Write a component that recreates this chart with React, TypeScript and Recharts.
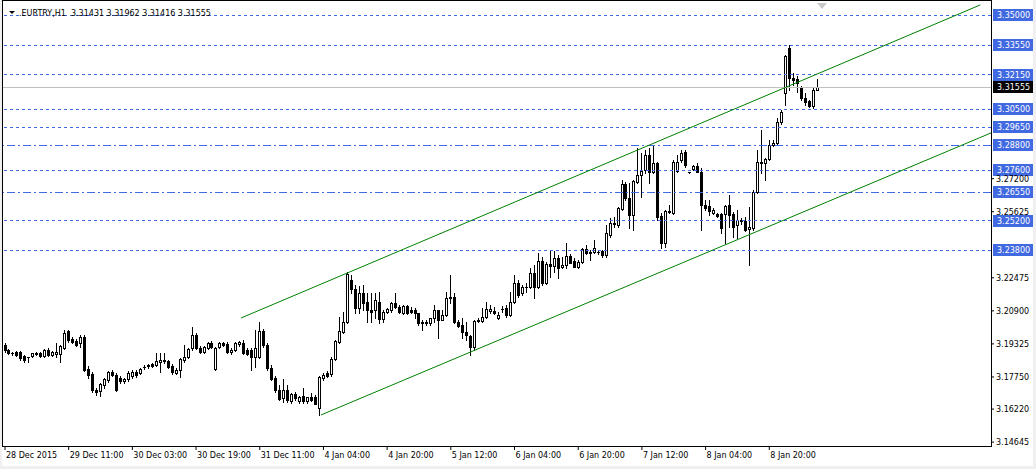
import React from 'react';
import { Bar, ComposedChart, ReferenceLine, XAxis, YAxis } from 'recharts';

// EURTRY H1 candles (oldest first)
const openP = [
  3.1927, 3.1903, 3.1889, 3.1894, 3.1894, 3.1875, 3.1870, 3.1875, 3.1884, 3.1889,
  3.1875, 3.1903, 3.1880, 3.1884, 3.1884, 3.1913, 3.1994, 3.1956, 3.1946, 3.1937,
  3.1966, 3.1813, 3.1789, 3.1713, 3.1708, 3.1737, 3.1760, 3.1799, 3.1784, 3.1770,
  3.1756, 3.1765, 3.1780, 3.1799, 3.1794, 3.1822, 3.1827, 3.1837, 3.1832, 3.1846,
  3.1856, 3.1851, 3.1827, 3.1794, 3.1808, 3.1856, 3.1870, 3.1913, 3.1975, 3.1913,
  3.1894, 3.1913, 3.1937, 3.1813, 3.1918, 3.1937, 3.1932, 3.1894, 3.1903, 3.1932,
  3.1937, 3.1903, 3.1903, 3.1870, 3.1870, 3.1994, 3.1927, 3.1818, 3.1770, 3.1713,
  3.1675, 3.1713, 3.1660, 3.1694, 3.1660, 3.1684, 3.1660, 3.1680, 3.1680, 3.1627,
  3.1770, 3.1794, 3.1789, 3.1860, 3.1942, 3.1989, 3.2037, 3.2237, 3.2194, 3.2104,
  3.2175, 3.2132, 3.2094, 3.2094, 3.2132, 3.2051, 3.2084, 3.2094, 3.2127, 3.2108,
  3.2080, 3.2113, 3.2094, 3.2094, 3.2080, 3.2037, 3.2032, 3.2032, 3.2056, 3.2094,
  3.2046, 3.2070, 3.2156, 3.2156, 3.2037, 3.2023, 3.1989, 3.1971, 3.1918, 3.2042,
  3.2042, 3.2061, 3.2089, 3.2089, 3.2056, 3.2099, 3.2104, 3.2070, 3.2132, 3.2223,
  3.2175, 3.2204, 3.2204, 3.2270, 3.2204, 3.2328, 3.2223, 3.2313, 3.2304, 3.2342,
  3.2299, 3.2309, 3.2351, 3.2328, 3.2299, 3.2323, 3.2385, 3.2370, 3.2370, 3.2370,
  3.2375, 3.2356, 3.2451, 3.2506, 3.2499, 3.2575, 3.2694, 3.2628, 3.2547, 3.2704,
  3.2737, 3.2761, 3.2833, 3.2752, 3.2795, 3.2542, 3.2413, 3.2561, 3.2556, 3.2757,
  3.2809, 3.2847, 3.2752, 3.2766, 3.2780, 3.2752, 3.2594, 3.2590, 3.2556, 3.2552,
  3.2552, 3.2552, 3.2594, 3.2552, 3.2499, 3.2518, 3.2518, 3.2480, 3.2485, 3.2656,
  3.2795, 3.2795, 3.2814, 3.2880, 3.2890, 3.2990, 3.3128, 3.3343, 3.3200, 3.3195,
  3.3157, 3.3104, 3.3090, 3.3066, 3.31431,
];
const highP = [
  3.1937, 3.1908, 3.1894, 3.1899, 3.1899, 3.1880, 3.1870, 3.1889, 3.1894, 3.1894,
  3.1908, 3.1913, 3.1899, 3.1937, 3.1927, 3.1999, 3.1999, 3.1966, 3.1956, 3.1975,
  3.1975, 3.1827, 3.1799, 3.1722, 3.1746, 3.1770, 3.1803, 3.1808, 3.1794, 3.1780,
  3.1770, 3.1803, 3.1808, 3.1808, 3.1818, 3.1832, 3.1837, 3.1841, 3.1889, 3.1889,
  3.1889, 3.1856, 3.1837, 3.1818, 3.1865, 3.1927, 3.1913, 3.2013, 3.1985, 3.1923,
  3.1923, 3.1942, 3.1946, 3.1918, 3.1942, 3.1942, 3.1942, 3.1913, 3.1942, 3.1946,
  3.1951, 3.1913, 3.1913, 3.1999, 3.2037, 3.2004, 3.1937, 3.1832, 3.1780, 3.1737,
  3.1765, 3.1737, 3.1699, 3.1703, 3.1684, 3.1722, 3.1680, 3.1699, 3.1689, 3.1780,
  3.1794, 3.1803, 3.1870, 3.1951, 3.2061, 3.2084, 3.2275, 3.2261, 3.2213, 3.2209,
  3.2213, 3.2175, 3.2175, 3.2175, 3.2180, 3.2094, 3.2104, 3.2132, 3.2175, 3.2118,
  3.2118, 3.2118, 3.2108, 3.2104, 3.2080, 3.2046, 3.2046, 3.2056, 3.2118, 3.2094,
  3.2094, 3.2180, 3.2261, 3.2175, 3.2046, 3.2056, 3.2037, 3.1975, 3.2046, 3.2056,
  3.2104, 3.2132, 3.2118, 3.2108, 3.2084, 3.2113, 3.2118, 3.2180, 3.2261, 3.2237,
  3.2213, 3.2223, 3.2294, 3.2309, 3.2366, 3.2347, 3.2323, 3.2375, 3.2375, 3.2356,
  3.2347, 3.2413, 3.2361, 3.2342, 3.2332, 3.2390, 3.2404, 3.2380, 3.2428, 3.2380,
  3.2380, 3.2499, 3.2533, 3.2537, 3.2585, 3.2714, 3.2704, 3.2699, 3.2714, 3.2866,
  3.2842, 3.2857, 3.2866, 3.2880, 3.2799, 3.2556, 3.2571, 3.2594, 3.2809, 3.2833,
  3.2857, 3.2857, 3.2752, 3.2785, 3.2795, 3.2771, 3.2618, 3.2618, 3.2580, 3.2556,
  3.2556, 3.2594, 3.2642, 3.2561, 3.2571, 3.2533, 3.2537, 3.2585, 3.2666, 3.2857,
  3.2952, 3.2818, 3.2904, 3.2904, 3.3009, 3.3047, 3.3309, 3.3357, 3.3224, 3.3209,
  3.3162, 3.3128, 3.3095, 3.3152, 3.31962,
];
const lowP = [
  3.1894, 3.1884, 3.1880, 3.1875, 3.1856, 3.1846, 3.1846, 3.1870, 3.1880, 3.1870,
  3.1870, 3.1875, 3.1875, 3.1870, 3.1846, 3.1908, 3.1942, 3.1937, 3.1923, 3.1918,
  3.1803, 3.1770, 3.1703, 3.1689, 3.1684, 3.1722, 3.1751, 3.1780, 3.1708, 3.1746,
  3.1746, 3.1756, 3.1770, 3.1775, 3.1789, 3.1813, 3.1818, 3.1822, 3.1827, 3.1799,
  3.1841, 3.1818, 3.1789, 3.1789, 3.1775, 3.1846, 3.1865, 3.1903, 3.1908, 3.1889,
  3.1889, 3.1908, 3.1913, 3.1808, 3.1913, 3.1923, 3.1889, 3.1884, 3.1899, 3.1923,
  3.1884, 3.1880, 3.1808, 3.1822, 3.1865, 3.1918, 3.1808, 3.1760, 3.1703, 3.1665,
  3.1656, 3.1656, 3.1651, 3.1665, 3.1651, 3.1651, 3.1651, 3.1660, 3.1646, 3.1594,
  3.1760, 3.1775, 3.1780, 3.1856, 3.1937, 3.1985, 3.2032, 3.2175, 3.2080, 3.2080,
  3.2094, 3.2037, 3.2037, 3.2056, 3.2032, 3.2037, 3.2080, 3.2084, 3.2104, 3.2080,
  3.2075, 3.2075, 3.2080, 3.2056, 3.2023, 3.1999, 3.2023, 3.2023, 3.2037, 3.1961,
  3.2046, 3.2065, 3.2127, 3.2032, 3.2013, 3.1961, 3.1951, 3.1880, 3.1903, 3.2037,
  3.2037, 3.2056, 3.2080, 3.2075, 3.2051, 3.2084, 3.2061, 3.2065, 3.2127, 3.2156,
  3.2166, 3.2180, 3.2199, 3.2151, 3.2199, 3.2213, 3.2218, 3.2251, 3.2275, 3.2247,
  3.2294, 3.2294, 3.2318, 3.2299, 3.2294, 3.2318, 3.2361, 3.2332, 3.2366, 3.2361,
  3.2347, 3.2347, 3.2442, 3.2490, 3.2490, 3.2571, 3.2618, 3.2485, 3.2475, 3.2699,
  3.2633, 3.2747, 3.2699, 3.2747, 3.2523, 3.2390, 3.2394, 3.2556, 3.2552, 3.2752,
  3.2799, 3.2776, 3.2747, 3.2761, 3.2752, 3.2475, 3.2571, 3.2547, 3.2552, 3.2537,
  3.2461, 3.2413, 3.2490, 3.2442, 3.2437, 3.2504, 3.2471, 3.2309, 3.2475, 3.2652,
  3.2747, 3.2714, 3.2809, 3.2876, 3.2880, 3.2981, 3.3071, 3.3143, 3.3166, 3.3133,
  3.3095, 3.3071, 3.3062, 3.3057, 3.31416,
];
const closeP = [
  3.1903, 3.1889, 3.1890, 3.1880, 3.1865, 3.1856, 3.1870, 3.1889, 3.1889, 3.1875,
  3.1903, 3.1880, 3.1894, 3.1894, 3.1923, 3.1985, 3.1951, 3.1942, 3.1927, 3.1966,
  3.1808, 3.1784, 3.1713, 3.1703, 3.1741, 3.1765, 3.1799, 3.1784, 3.1713, 3.1756,
  3.1765, 3.1794, 3.1799, 3.1784, 3.1813, 3.1823, 3.1832, 3.1827, 3.1851, 3.1856,
  3.1851, 3.1822, 3.1799, 3.1808, 3.1860, 3.1870, 3.1908, 3.1975, 3.1913, 3.1894,
  3.1918, 3.1937, 3.1918, 3.1913, 3.1937, 3.1927, 3.1894, 3.1903, 3.1937, 3.1942,
  3.1889, 3.1884, 3.1870, 3.1913, 3.1994, 3.1927, 3.1818, 3.1765, 3.1713, 3.1670,
  3.1713, 3.1665, 3.1694, 3.1675, 3.1680, 3.1660, 3.1678, 3.1665, 3.1646, 3.1775,
  3.1784, 3.1780, 3.1860, 3.1946, 3.1994, 3.2037, 3.2266, 3.2194, 3.2104, 3.2175,
  3.2127, 3.2094, 3.2084, 3.2142, 3.2051, 3.2084, 3.2099, 3.2127, 3.2108, 3.2084,
  3.2113, 3.2080, 3.2084, 3.2080, 3.2032, 3.2032, 3.2037, 3.2056, 3.2094, 3.2046,
  3.2070, 3.2151, 3.2151, 3.2037, 3.2018, 3.1989, 3.1975, 3.1918, 3.2042, 3.2046,
  3.2061, 3.2099, 3.2099, 3.2080, 3.2070, 3.2100, 3.2070, 3.2132, 3.2223, 3.2166,
  3.2204, 3.2205, 3.2270, 3.2204, 3.2328, 3.2223, 3.2313, 3.2304, 3.2342, 3.2294,
  3.2309, 3.2351, 3.2318, 3.2299, 3.2323, 3.2385, 3.2366, 3.2366, 3.2390, 3.2371,
  3.2356, 3.2461, 3.2509, 3.2509, 3.2580, 3.2694, 3.2628, 3.2547, 3.2709, 3.2737,
  3.2757, 3.2833, 3.2752, 3.2795, 3.2537, 3.2413, 3.2566, 3.2566, 3.2799, 3.2799,
  3.2842, 3.2785, 3.2751, 3.2780, 3.2752, 3.2594, 3.2580, 3.2566, 3.2571, 3.2542,
  3.2485, 3.2590, 3.2547, 3.2490, 3.2523, 3.2521, 3.2475, 3.2490, 3.2656, 3.2799,
  3.2800, 3.2814, 3.2880, 3.2890, 3.2990, 3.3038, 3.3305, 3.3200, 3.3190, 3.3176,
  3.3104, 3.3086, 3.3066, 3.3143, 3.31555,
];

// time axis: a label every 16 bars
const dateTicks = [0, 16, 32, 48, 64, 80, 96, 112, 128, 144, 160, 176, 192];
const dateLabels = [
  '28 Dec 2015', '29 Dec 11:00', '30 Dec 03:00', '30 Dec 19:00', '31 Dec 11:00',
  '4 Jan 04:00', '4 Jan 20:00', '5 Jan 12:00', '6 Jan 04:00', '6 Jan 20:00',
  '7 Jan 12:00', '8 Jan 04:00', '8 Jan 20:00',
];

// price scale labels that are not hidden behind the level tags
const priceTicks = [3.14645, 3.1622, 3.1775, 3.19325, 3.209, 3.22475, 3.25625, 3.272];

// horizontal levels drawn on the chart
const dottedLevels = [3.35, 3.3355, 3.3215, 3.305, 3.2965, 3.276, 3.252, 3.238];
const dashDotLevels = [3.288, 3.2655];
const bidPrice = 3.31555;

// channel anchors (bar index, price)
const upperChannelIdx = [59.3, 245.0];
const upperChannelPrice = [3.2056, 3.3548];
const lowerChannelIdx = [79.4, 247.7];
const lowerChannelPrice = [3.1594, 3.2938];

const FONT = 'DejaVu Sans';
const BLUE = '#4169e1';

const data = openP.map((o, i) => ({
  i,
  open: o,
  high: highP[i],
  low: lowP[i],
  close: closeP[i],
  range: [lowP[i], highP[i]],
}));

function Candle(props: any) {
  const { x, width, y, height } = props;
  const d = props.payload ?? props;
  if (height == null || !d) return null;
  const k = height / (d.high - d.low);
  const py = (v: number) => y + (d.high - v) * k;
  const cx = Math.round(x + width / 2);
  const top = Math.round(py(Math.max(d.open, d.close)));
  const bot = Math.round(py(Math.min(d.open, d.close)));
  const bull = d.close >= d.open;
  return (
    <g shapeRendering="crispEdges">
      <line x1={cx + 0.5} x2={cx + 0.5} y1={Math.round(y)} y2={Math.round(y + height) + 1} stroke="#000" />
      {bot - top < 1 ? (
        <line x1={cx - 1} x2={cx + 2} y1={top + 0.5} y2={top + 0.5} stroke="#000" />
      ) : (
        <rect x={cx - 0.5} y={top + 0.5} width={2} height={bot - top} fill={bull ? '#fff' : '#000'} stroke="#000" />
      )}
    </g>
  );
}

const priceTag = (text: string, bg: string) => (p: any) => {
  const vb = p.viewBox;
  if (!vb) return null;
  const bx = vb.x + vb.width + 2;
  const cy = Math.round(vb.y);
  return (
    <g>
      <rect x={bx} y={cy - 6} width={40} height={12} fill={bg} />
      <text x={bx + 4} y={cy} dy="0.35em" fill="#fff" fontSize={8} fontFamily={FONT}>
        {text}
      </text>
    </g>
  );
};

function DateTick(props: any) {
  const { x, y, payload } = props;
  const idx = dateTicks.indexOf(payload.value);
  return (
    <text x={x + 1} y={y} dy="0.71em" textAnchor="start" fontSize={8} fontFamily={FONT} fill="#000">
      {dateLabels[idx]}
    </text>
  );
}

export default function App() {
  return (
    <div style={{ position: 'absolute', left: 0, top: 0, width: 1036, height: 469, background: '#fff' }}>
      <ComposedChart width={1036} height={469} data={data} margin={{ top: 0, right: 0, bottom: 0, left: 3 }}>
        <XAxis
          type="number"
          dataKey="i"
          domain={[-0.5, 247.7]}
          allowDataOverflow
          ticks={dateTicks}
          interval={0}
          height={23}
          axisLine={false}
          tickSize={4}
          tickMargin={2}
          tickLine={{ stroke: '#000' }}
          tick={<DateTick />}
        />
        <YAxis
          orientation="right"
          type="number"
          domain={[3.14459, 3.35715]}
          allowDataOverflow
          ticks={priceTicks}
          interval={0}
          width={45}
          axisLine={false}
          tickSize={3}
          tickMargin={2}
          tickLine={{ stroke: '#000' }}
          tick={{ fill: '#000', fontSize: 8, fontFamily: FONT }}
          tickFormatter={(v: number) => v.toFixed(5)}
        />
        <ReferenceLine
          y={bidPrice}
          stroke="#c0c0c0"
          shapeRendering="crispEdges"
          label={priceTag(bidPrice.toFixed(5), '#000')}
        />
        {dottedLevels.map((v) => (
          <ReferenceLine
            key={v}
            y={v}
            stroke={BLUE}
            strokeDasharray="3 3"
            shapeRendering="crispEdges"
            label={priceTag(v.toFixed(5), BLUE)}
          />
        ))}
        {dashDotLevels.map((v) => (
          <ReferenceLine
            key={v}
            y={v}
            stroke={BLUE}
            strokeDasharray="8 3 2 3"
            shapeRendering="crispEdges"
            label={priceTag(v.toFixed(5), BLUE)}
          />
        ))}
        <ReferenceLine
          ifOverflow="visible"
          stroke="#008000"
          segment={[
            { x: upperChannelIdx[0], y: upperChannelPrice[0] },
            { x: upperChannelIdx[1], y: upperChannelPrice[1] },
          ]}
        />
        <ReferenceLine
          ifOverflow="visible"
          stroke="#008000"
          segment={[
            { x: lowerChannelIdx[0], y: lowerChannelPrice[0] },
            { x: lowerChannelIdx[1], y: lowerChannelPrice[1] },
          ]}
        />
        <Bar dataKey="range" barSize={3} shape={<Candle />} isAnimationActive={false} />
      </ComposedChart>
      <svg width={1036} height={469} style={{ position: 'absolute', left: 0, top: 0, pointerEvents: 'none' }}>
        <rect x={0} y={0} width={2} height={469} fill="#f0f0f0" />
        <rect x={0} y={466} width={1036} height={3} fill="#f0f0f0" />
        <rect x={1033} y={0} width={3} height={469} fill="#f0f0f0" />
        <rect x={2.5} y={0.5} width={989} height={446} fill="none" stroke="#000" shapeRendering="crispEdges" />
        <polygon points="9,11 15,11 12,14" fill="#000" />
        <polygon points="817,3 827,3 822,9" fill="#c8c8c8" />
        <text x={19} y={16} fontSize={8} fontFamily={FONT} fill="#000" style={{ whiteSpace: 'pre' }}>
          {'.EURTRY,H1  3.31431 3.31962 3.31416 3.31555'}
        </text>
      </svg>
    </div>
  );
}
